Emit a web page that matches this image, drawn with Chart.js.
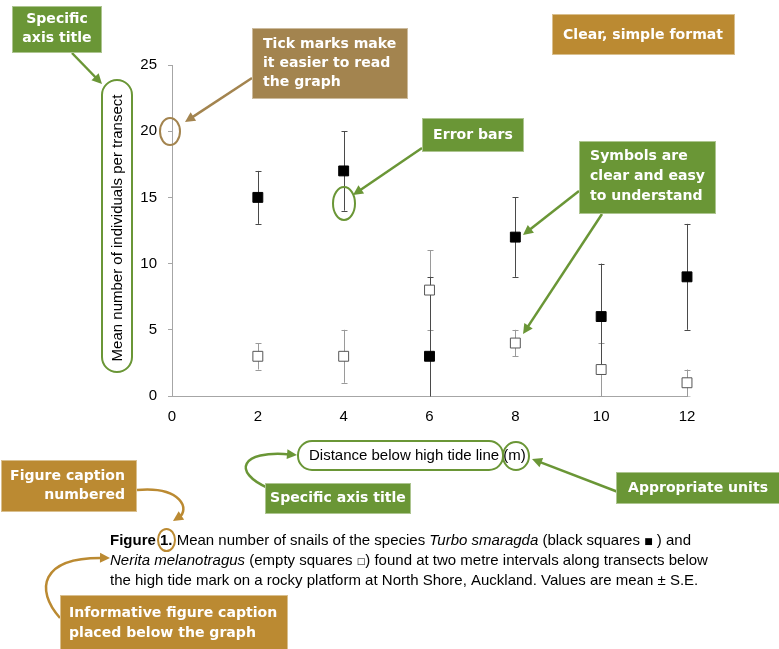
<!DOCTYPE html>
<html>
<head>
<meta charset="utf-8">
<script src="https://cdn.jsdelivr.net/npm/chart.js@4.4.1/dist/chart.umd.min.js"></script>
<style>
  html, body { margin: 0; padding: 0; background: #ffffff; }
  #wrap { position: relative; width: 779px; height: 649px; }
  canvas { display: block; }
</style>
</head>
<body>
<div id="wrap"><canvas id="c" width="779" height="649"></canvas></div>
<script>
// Distance below the high tide line (m)
const distances = [2, 4, 6, 8, 10, 12];
// Turbo smaragda (black squares): mean and standard error
const turboMean = [15, 17, 3, 12, 6, 9];
const turboSE   = [2, 3, 6, 3, 4, 4];
// Nerita melanotragus (empty squares): mean and standard error
const neritaMean = [3, 3, 8, 4, 2, 1];
const neritaSE   = [1, 2, 3, 1, 2, 1];
// Axis ranges and tick steps
const xRange = [0, 12], xStep = 2;
const yRange = [0, 25], yStep = 5;

const xTitle = 'Distance below high tide line (m)';
const yTitle = 'Mean number of individuals per transect';

const GREEN = '#6a9636';
const TAN = '#a3844f';
const ORANGE = '#bb8a32';
const AXIS = '#a6a6a6';

function toPoints(means) {
  return distances.map((d, i) => ({ x: d, y: means[i] }));
}

// Vertical error bars with caps, drawn under the markers
const errorBars = {
  id: 'errorBars',
  beforeDatasetsDraw(chart) {
    const { ctx, chartArea, scales: { x, y } } = chart;
    const sets = [
      { mean: neritaMean, se: neritaSE, color: '#9a9a9a' },
      { mean: turboMean, se: turboSE, color: '#4a4a4a' }
    ];
    ctx.save();
    ctx.beginPath();
    ctx.rect(chartArea.left, chartArea.top - 5, chartArea.right - chartArea.left + 10, chartArea.bottom - chartArea.top + 5.5);
    ctx.clip();
    ctx.lineWidth = 1;
    sets.forEach(s => {
      ctx.strokeStyle = s.color;
      distances.forEach((d, i) => {
        const px = Math.round(x.getPixelForValue(d)) + 0.5;
        const hi = y.getPixelForValue(s.mean[i] + s.se[i]);
        const lo = y.getPixelForValue(s.mean[i] - s.se[i]);
        ctx.beginPath();
        ctx.moveTo(px, hi); ctx.lineTo(px, lo);
        ctx.moveTo(px - 3, Math.round(hi) + 0.5); ctx.lineTo(px + 3, Math.round(hi) + 0.5);
        ctx.moveTo(px - 3, Math.round(lo) + 0.5); ctx.lineTo(px + 3, Math.round(lo) + 0.5);
        ctx.stroke();
      });
    });
    ctx.restore();
  }
};

function squeezed(ctx, text, x, y, align, sq) {
  const w = ctx.measureText(text).width * sq;
  const left = align === 'center' ? x - w / 2 : align === 'right' ? x - w : x;
  ctx.save();
  ctx.translate(left, y);
  ctx.scale(sq, 1);
  ctx.textAlign = 'left';
  ctx.fillText(text, 0, 0);
  ctx.restore();
}

function arrowHead(ctx, fx, fy, tx, ty, color) {
  const a = Math.atan2(ty - fy, tx - fx);
  const len = 10, half = 5;
  ctx.save();
  ctx.fillStyle = color;
  ctx.beginPath();
  ctx.moveTo(tx, ty);
  ctx.lineTo(tx - len * Math.cos(a) + half * Math.sin(a), ty - len * Math.sin(a) - half * Math.cos(a));
  ctx.lineTo(tx - len * Math.cos(a) - half * Math.sin(a), ty - len * Math.sin(a) + half * Math.cos(a));
  ctx.closePath();
  ctx.fill();
  ctx.restore();
}

function straightArrow(ctx, a, color) {
  const [x1, y1, x2, y2] = a;
  const ang = Math.atan2(y2 - y1, x2 - x1);
  ctx.save();
  ctx.strokeStyle = color;
  ctx.lineWidth = 2.5;
  ctx.beginPath();
  ctx.moveTo(x1, y1);
  ctx.lineTo(x2 - 8 * Math.cos(ang), y2 - 8 * Math.sin(ang));
  ctx.stroke();
  ctx.restore();
  arrowHead(ctx, x1, y1, x2, y2, color);
}

function curvedArrow(ctx, c, color) {
  const [x0, y0, c1x, c1y, c2x, c2y, x3, y3] = c;
  const ang = Math.atan2(y3 - c2y, x3 - c2x);
  ctx.save();
  ctx.strokeStyle = color;
  ctx.lineWidth = 2.5;
  ctx.beginPath();
  ctx.moveTo(x0, y0);
  ctx.bezierCurveTo(c1x, c1y, c2x, c2y, x3 - 7 * Math.cos(ang), y3 - 7 * Math.sin(ang));
  ctx.stroke();
  ctx.restore();
  arrowHead(ctx, c2x, c2y, x3, y3, color);
}

function ellipse(ctx, e, color) {
  const [cx, cy, rx, ry] = e;
  ctx.save();
  ctx.strokeStyle = color;
  ctx.lineWidth = 2;
  ctx.beginPath();
  ctx.ellipse(cx, cy, rx, ry, 0, 0, Math.PI * 2);
  ctx.stroke();
  ctx.restore();
}

function roundRect(ctx, r, color) {
  const [x, y, w, h, rad] = r;
  ctx.save();
  ctx.strokeStyle = color;
  ctx.lineWidth = 2;
  ctx.beginPath();
  ctx.roundRect(x, y, w, h, rad);
  ctx.stroke();
  ctx.restore();
}

// Axis titles, call-out boxes, arrows and the figure caption
const callouts = {
  id: 'callouts',
  afterDraw(chart) {
    const ctx = chart.ctx;
    ctx.save();

    // axis titles
    ctx.fillStyle = '#000';
    ctx.font = '15px "Liberation Sans", Arial, sans-serif';
    ctx.textBaseline = 'middle';
    ctx.textAlign = 'left';
    ctx.fillText(xTitle, 309, 456);
    ctx.save();
    ctx.translate(118, 228);
    ctx.rotate(-Math.PI / 2);
    ctx.textAlign = 'center';
    ctx.fillText(yTitle, 0, 0);
    ctx.restore();

    // outlines round the titles, units and tick label
    roundRect(ctx, [102, 80, 30, 292, 15], GREEN);
    roundRect(ctx, [298, 441, 205, 29, 14], GREEN);
    ellipse(ctx, [516, 456, 13, 14], GREEN);
    ellipse(ctx, [170, 131.5, 10, 13.5], TAN);
    ellipse(ctx, [344, 203.5, 11, 16.5], GREEN);
    ellipse(ctx, [166.5, 540, 8.5, 11], ORANGE);

    // arrows
    straightArrow(ctx, [72, 53, 102, 84], GREEN);
    straightArrow(ctx, [252, 78, 185, 122], TAN);
    straightArrow(ctx, [422, 148, 353, 195], GREEN);
    straightArrow(ctx, [579, 191, 523, 235], GREEN);
    straightArrow(ctx, [602, 214, 523, 334], GREEN);
    straightArrow(ctx, [618, 492, 532, 459], GREEN);
    curvedArrow(ctx, [268, 488, 232, 472, 240, 450, 297, 455], GREEN);
    curvedArrow(ctx, [137, 490, 182, 486, 190, 510, 173, 521], ORANGE);
    curvedArrow(ctx, [60, 618, 35, 590, 40, 557, 110, 558], ORANGE);

    // call-out boxes
    const boxes = [
      { r: [12, 6, 90, 47], fill: GREEN, lines: ['Specific', 'axis title'], align: 'center', tx: 57, ty: [19, 38] },
      { r: [252, 28, 156, 71], fill: TAN, lines: ['Tick marks make', 'it easier to read', 'the graph'], align: 'left', tx: 263, ty: [44, 63, 82] },
      { r: [422, 118, 102, 34], fill: GREEN, lines: ['Error bars'], align: 'center', tx: 473, ty: [135] },
      { r: [579, 141, 137, 73], fill: GREEN, lines: ['Symbols are', 'clear and easy', 'to understand'], align: 'left', tx: 590, ty: [156, 176, 196] },
      { r: [552, 14, 183, 41], fill: ORANGE, lines: ['Clear, simple format'], align: 'center', tx: 643, ty: [35] },
      { r: [265, 483, 146, 31], fill: GREEN, lines: ['Specific axis title'], align: 'center', tx: 338, ty: [498] },
      { r: [616, 472, 170, 32], fill: GREEN, lines: ['Appropriate units'], align: 'left', tx: 628, ty: [488] },
      { r: [1, 460, 136, 52], fill: ORANGE, lines: ['Figure caption', 'numbered'], align: 'right', tx: 125, ty: [476, 495] },
      { r: [60, 595, 228, 56], fill: ORANGE, lines: ['Informative figure caption', 'placed below the graph'], align: 'left', tx: 69, ty: [613, 633] }
    ];
    ctx.font = 'bold 14px "DejaVu Sans", Verdana, sans-serif';
    const sq = 160 / ctx.measureText('Clear, simple format').width;
    boxes.forEach(b => {
      ctx.fillStyle = b.fill;
      ctx.fillRect(b.r[0], b.r[1], b.r[2], b.r[3]);
      ctx.strokeStyle = 'rgba(255,255,255,0.45)';
      ctx.lineWidth = 1;
      ctx.strokeRect(b.r[0] + 0.5, b.r[1] + 0.5, b.r[2] - 1, b.r[3] - 1);
      ctx.fillStyle = '#ffffff';
      ctx.textBaseline = 'middle';
      b.lines.forEach((t, i) => squeezed(ctx, t, b.tx, b.ty[i], b.align, sq));
    });

    // figure caption
    const REG = '15px "Liberation Sans", Arial, sans-serif';
    const BOLD = 'bold 15px "Liberation Sans", Arial, sans-serif';
    const ITAL = 'italic 15px "Liberation Sans", Arial, sans-serif';
    const SYM = '9px "DejaVu Sans", sans-serif';
    const caption = [
      [[BOLD, 'Figure 1.'], [REG, ' Mean number of snails of the species '], [ITAL, 'Turbo smaragda'], [REG, ' (black squares '], [SYM, '\u25A0'], [REG, ' ) and']],
      [[ITAL, 'Nerita melanotragus'], [REG, ' (empty squares '], [SYM, '\u25A1'], [REG, ') found at two metre intervals along transects below']],
      [[REG, 'the high tide mark on a rocky platform at North Shore, Auckland. Values are mean \u00B1 S.E.']]
    ];
    const baselines = [545, 565, 585];
    ctx.fillStyle = '#000';
    ctx.textBaseline = 'alphabetic';
    ctx.textAlign = 'left';
    caption.forEach((line, li) => {
      let cx = 110;
      line.forEach(([f, t]) => {
        ctx.font = f;
        ctx.fillText(t, cx, baselines[li] - (f === SYM ? 1 : 0));
        cx += ctx.measureText(t).width;
      });
    });

    ctx.restore();
  }
};

const tickFont = { family: '"Liberation Sans", Arial, sans-serif', size: 15 };

new Chart(document.getElementById('c'), {
  type: 'scatter',
  data: {
    datasets: [
      {
        label: 'Turbo smaragda',
        data: toPoints(turboMean),
        pointStyle: 'rect',
        pointRadius: 7,
        backgroundColor: '#000000',
        borderColor: '#000000',
        borderWidth: 1,
        clip: false
      },
      {
        label: 'Nerita melanotragus',
        data: toPoints(neritaMean),
        pointStyle: 'rect',
        pointRadius: 7,
        backgroundColor: '#ffffff',
        borderColor: '#555555',
        borderWidth: 1,
        clip: false
      }
    ]
  },
  options: {
    responsive: false,
    animation: false,
    events: [],
    layout: { padding: { top: 65, right: 92, bottom: 0, left: 0 } },
    plugins: { legend: { display: false }, tooltip: { enabled: false } },
    scales: {
      x: {
        type: 'linear',
        min: xRange[0], max: xRange[1],
        ticks: { stepSize: xStep, color: '#000', font: tickFont, padding: 4, maxRotation: 0 },
        grid: { display: false },
        border: { display: true, color: AXIS, width: 1 },
        afterFit(s) { s.height = 253; }
      },
      y: {
        min: yRange[0], max: yRange[1],
        ticks: { stepSize: yStep, color: '#000', font: tickFont, padding: 11 },
        grid: { drawOnChartArea: false, drawTicks: true, tickLength: 4, color: AXIS },
        border: { display: true, color: AXIS, width: 1 },
        afterFit(s) { s.width = 172; }
      }
    }
  },
  plugins: [errorBars, callouts]
});
</script>
</body>
</html>
